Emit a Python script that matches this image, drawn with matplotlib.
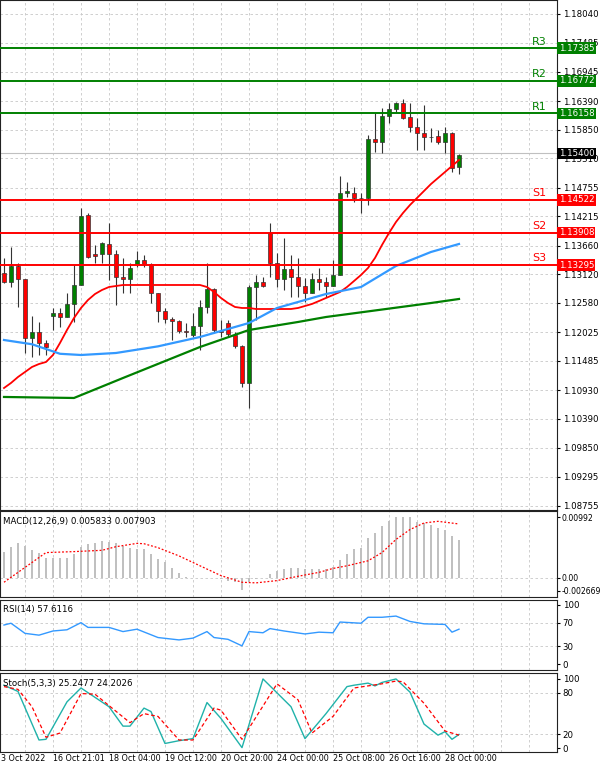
import matplotlib
matplotlib.use("Agg")
import matplotlib.pyplot as plt
import numpy as np

plt.rcParams["font.family"] = "DejaVu Sans"
plt.rcParams["font.size"] = 6.2

# ---- candles (open, high, low, close) ----
opens = [1.13151, 1.12982, 1.13277, 1.13032, 1.11912, 1.12038, 1.11818, 1.12334, 1.12384, 1.12321,
         1.12560, 1.12919, 1.14240, 1.13504, 1.13504, 1.13692, 1.13504, 1.13063, 1.13032, 1.13315,
         1.13390, 1.13315, 1.12761, 1.12434, 1.12271, 1.12233, 1.12057, 1.11975, 1.12145, 1.12510,
         1.12843, 1.12045, 1.12195, 1.11975, 1.11768, 1.11063, 1.12875, 1.12982, 1.13895, 1.13329,
         1.13027, 1.13229, 1.13065, 1.12901, 1.12763, 1.13027, 1.12983, 1.12901, 1.13109, 1.14663,
         1.14663, 1.14556, 1.14556, 1.15669, 1.15612, 1.16109, 1.16235, 1.16361, 1.16084, 1.15896,
         1.15795, 1.15707, 1.15732, 1.15612, 1.15782, 1.15153]
highs = [1.13422, 1.13642, 1.13327, 1.13032, 1.12334, 1.12227, 1.11881, 1.12478, 1.12478, 1.12761,
         1.13296, 1.14365, 1.14271, 1.13673, 1.13736, 1.14082, 1.13579, 1.13422, 1.13327, 1.13560,
         1.13485, 1.13327, 1.12761, 1.12478, 1.12321, 1.12258, 1.12195, 1.12384, 1.12636, 1.13327,
         1.12856, 1.12258, 1.12258, 1.12038, 1.11786, 1.12919, 1.13107, 1.13076, 1.14084, 1.13530,
         1.13801, 1.13486, 1.13424, 1.13046, 1.13153, 1.13235, 1.13078, 1.13392, 1.14977, 1.14870,
         1.14763, 1.14650, 1.15751, 1.16172, 1.16254, 1.16348, 1.16380, 1.16424, 1.16348, 1.16065,
         1.16317, 1.15877, 1.15845, 1.15908, 1.15814, 1.15392]
lows = [1.12950, 1.12875, 1.12510, 1.11642, 1.11554, 1.11598, 1.11598, 1.12070, 1.12132, 1.12321,
        1.12227, 1.12919, 1.13422, 1.13327, 1.13327, 1.13013, 1.12541, 1.12761, 1.12761, 1.13252,
        1.13252, 1.12573, 1.12227, 1.12195, 1.11881, 1.12007, 1.11944, 1.11944, 1.11692, 1.12384,
        1.12038, 1.11944, 1.11944, 1.11724, 1.11000, 1.10591, 1.12258, 1.12887, 1.13078, 1.12889,
        1.12826, 1.12700, 1.12700, 1.12606, 1.12763, 1.12826, 1.12700, 1.12901, 1.13109, 1.14575,
        1.14493, 1.14273, 1.14430, 1.15436, 1.15405, 1.15971, 1.16191, 1.16046, 1.15814, 1.15468,
        1.15468, 1.15625, 1.15581, 1.15405, 1.15059, 1.15015]
closes = [1.12982, 1.13277, 1.13032, 1.11912, 1.12038, 1.11818, 1.11755, 1.12384, 1.12309, 1.12560,
          1.12919, 1.14221, 1.13453, 1.13466, 1.13717, 1.13504, 1.13063, 1.13032, 1.13233, 1.13390,
          1.13315, 1.12761, 1.12434, 1.12271, 1.12233, 1.12057, 1.12038, 1.12145, 1.12510, 1.12843,
          1.12070, 1.12032, 1.11994, 1.11768, 1.11063, 1.12875, 1.12982, 1.12900, 1.13329, 1.13027,
          1.13229, 1.13065, 1.12901, 1.12763, 1.13027, 1.12983, 1.12901, 1.13109, 1.14650, 1.14694,
          1.14556, 1.14562, 1.15669, 1.15612, 1.16109, 1.16235, 1.16361, 1.16065, 1.15896, 1.15795,
          1.15707, 1.15712, 1.15612, 1.15782, 1.15122, 1.15373]

# ---- moving averages ----
ma_fast = [1.10974, 1.11069, 1.11182, 1.11276, 1.11371, 1.11427, 1.11465, 1.11597, 1.11824, 1.12069,
           1.12295, 1.12484, 1.12635, 1.12748, 1.12824, 1.12880, 1.12899, 1.12918, 1.12918, 1.12918,
           1.12918, 1.12918, 1.12918, 1.12918, 1.12918, 1.12918, 1.12918, 1.12918, 1.12918, 1.12880,
           1.12786, 1.12673, 1.12578, 1.12503, 1.12484, 1.12484, 1.12465, 1.12465, 1.12465, 1.12465,
           1.12465, 1.12465, 1.12484, 1.12522, 1.12560, 1.12616, 1.12673, 1.12729, 1.12786, 1.12880,
           1.12993, 1.13107, 1.13239, 1.13428, 1.13673, 1.13899, 1.14107, 1.14277, 1.14428, 1.14560,
           1.14692, 1.14824, 1.14937, 1.15050, 1.15164, 1.15277]
ma_mid_idx = [0, 4, 8, 11, 16, 22, 28, 35, 39, 46, 51, 56, 61, 65]
ma_mid = [1.11880, 1.11800, 1.11620, 1.11597, 1.11635, 1.11760, 1.11937, 1.12201, 1.12484, 1.12748,
          1.12880, 1.13277, 1.13541, 1.13692]
ma_slow_idx = [0, 10, 17, 28, 35, 42, 46, 61, 65]
ma_slow = [1.10805, 1.10786, 1.11163, 1.11748, 1.12069, 1.12220, 1.12314, 1.12578, 1.12654]

# ---- support / resistance ----
res_names = ["R3", "R2", "R1"]
res_levels = [1.17385, 1.16772, 1.16158]
sup_names = ["S1", "S2", "S3"]
sup_levels = [1.14522, 1.13908, 1.13295]
last_price = 1.15400
price_ticks = [1.18040, 1.17485, 1.16945, 1.16390, 1.15850, 1.15310, 1.14755, 1.14215, 1.13660,
               1.13120, 1.12580, 1.12025, 1.11485, 1.10930, 1.10390, 1.09850, 1.09295, 1.08755]

# ---- MACD ----
macd_hist = [0.00423, 0.00504, 0.00563, 0.00520, 0.00450, 0.00413, 0.00332, 0.00332, 0.00332, 0.00332,
             0.00386, 0.00509, 0.00547, 0.00574, 0.00600, 0.00584, 0.00574, 0.00520, 0.00493, 0.00477,
             0.00477, 0.00386, 0.00306, 0.00252, 0.00155, 0.00080, 0.00010, 0.00005, 0.0, 0.0,
             0.0, -0.00016, -0.00043, -0.00059, -0.00204, -0.00059, -0.00016, 0.0, 0.00064, 0.00118,
             0.00145, 0.00155, 0.00155, 0.00145, 0.00145, 0.00145, 0.00145, 0.00172, 0.00289, 0.00397,
             0.00466, 0.00493, 0.00643, 0.00724, 0.00842, 0.00927, 0.00986, 0.00992, 0.00986, 0.00917,
             0.00895, 0.00868, 0.00815, 0.00788, 0.00691, 0.00616]
macd_sig_idx = [0, 6, 10, 14, 16, 19, 20, 22, 25, 28, 31, 34, 36, 39, 42, 45, 47, 49, 52, 54, 56, 58, 60, 62, 65]
macd_sig = [-0.0007, 0.00413, 0.00429, 0.00450, 0.00509, 0.00563, 0.00557, 0.00493, 0.00359, 0.00198,
            0.00038, -0.0007, -0.0008, -0.00043, 0.00027, 0.00091, 0.00155, 0.00198, 0.00279, 0.00413,
            0.00627, 0.00788, 0.00895, 0.00922, 0.00879]

# ---- RSI ----
rsi_idx = [0, 1, 3, 5, 7, 9, 11, 12, 15, 17, 19, 22, 25, 27, 29, 30, 32, 34, 35, 37, 38, 40, 43, 45, 47,
           48, 51, 52, 54, 56, 58, 60, 63, 64, 65]
rsi = [66, 69, 52, 49, 56, 58, 70, 62, 62, 55, 59, 45, 41, 44, 55, 45, 42, 31, 55, 53, 60, 56, 51, 54, 53,
       71, 69, 79, 79, 81, 72, 68, 67, 54, 59]

# ---- Stochastic ----
stk_idx = [0, 2, 5, 6, 9, 11, 15, 17, 18, 20, 21, 23, 25, 27, 29, 31, 34, 37, 41, 43, 46, 49, 50, 52, 53,
           54, 56, 58, 60, 62, 63, 64, 65]
stk = [91, 82, 12, 13, 67, 87, 60, 32, 32, 58, 53, 7, 11, 14, 66, 43, 1, 100, 60, 14, 50, 89, 91, 94, 90,
       95, 100, 81, 35, 19, 24, 13, 20]
std_idx = [0, 2, 4, 6, 8, 11, 13, 18, 20, 22, 25, 27, 30, 31, 34, 39, 42, 44, 47, 50, 54, 56, 57, 60, 63, 65]
std = [89, 85, 60, 16, 22, 79, 78, 37, 50, 46, 12, 12, 58, 55, 13, 93, 70, 22, 46, 87, 93, 97, 96, 65, 25, 19]

date_pos = [-0.4, 7, 15, 23, 31, 39, 47, 55, 63]
date_labels = ["3 Oct 2022", "16 Oct 21:01", "18 Oct 04:00", "19 Oct 12:00", "20 Oct 20:00",
               "24 Oct 00:00", "25 Oct 08:00", "26 Oct 16:00", "28 Oct 00:00"]

GREEN = "#008000"
RED = "#ff0000"
GRID = dict(color="#c8c8c8", linestyle=(0, (3, 3)), linewidth=0.6)

fig = plt.figure(figsize=(6.0, 7.72), dpi=100)
W = 557 / 600
ax = fig.add_axes([0, 1 - 510 / 772, W, 510 / 772])
ax_m = fig.add_axes([0, 1 - 597 / 772, W, 86 / 772])
ax_r = fig.add_axes([0, 1 - 670 / 772, W, 70 / 772])
ax_s = fig.add_axes([0, 1 - 752 / 772, W, 79 / 772])

n = len(opens)
x = np.arange(n)
xlim = (-0.57, 79.0)
vgrid = np.arange(3, 80, 4)

for a in (ax, ax_m, ax_r, ax_s):
    a.set_xlim(*xlim)
    a.set_xticks([])
    a.yaxis.tick_right()
    a.tick_params(axis="y", length=2, pad=2, labelsize=6.2)
    for v in vgrid:
        a.axvline(v, zorder=0, **GRID)
    for s in a.spines.values():
        s.set_color("#222")
        s.set_linewidth(0.8)

# main panel
ax.set_ylim(1.08672, 1.18296)
ax.set_yticks(price_ticks)
ax.set_yticklabels([f"{p:.5f}" for p in price_ticks])
for p in price_ticks:
    ax.axhline(p, zorder=0, **GRID)

o = np.array(opens); c = np.array(closes)
up = c >= o
ax.vlines(x, lows, highs, color="#333", linewidth=0.8, zorder=2)
bottoms = np.minimum(o, c)
heights = np.maximum(np.abs(c - o), 0.00006)
ax.bar(x[up], heights[up], bottom=bottoms[up], width=0.7, color=GREEN, edgecolor="#333",
       linewidth=0.5, zorder=3)
ax.bar(x[~up], heights[~up], bottom=bottoms[~up], width=0.7, color=RED, edgecolor="#333",
       linewidth=0.5, zorder=3)

ax.plot(x, ma_fast, color=RED, linewidth=1.3, zorder=4)
ax.plot(ma_mid_idx, ma_mid, color="#3399ff", linewidth=1.6, zorder=4)
ax.plot(ma_slow_idx, ma_slow, color=GREEN, linewidth=1.6, zorder=4)

ax.axhline(last_price, color="#c0c0c0", linewidth=0.8, zorder=1)
for names, levels, col in ((res_names, res_levels, GREEN), (sup_names, sup_levels, RED)):
    for name, lv in zip(names, levels):
        ax.axhline(lv, color=col, linewidth=1.4, zorder=5)
        ax.text(76.5, lv + 0.0003, name, color=col, fontsize=8, ha="center", va="bottom")
        ax.text(1.003, lv, f"{lv:.5f}", transform=ax.get_yaxis_transform(), color="white",
                fontsize=6.2, va="center", ha="left", zorder=10,
                bbox=dict(boxstyle="square,pad=0.15", fc=col, ec="none"))
ax.text(1.003, last_price, f"{last_price:.5f}", transform=ax.get_yaxis_transform(), color="white",
        fontsize=6.2, va="center", ha="left", zorder=10,
        bbox=dict(boxstyle="square,pad=0.15", fc="black", ec="none"))

# MACD
ax_m.set_ylim(-0.0031, 0.0109)
ax_m.set_yticks([0.00992, 0.0, -0.0021])
ax_m.set_yticklabels(["0.00992", "0.00", "-0.002669"])
ax_m.tick_params(axis="y", labelsize=5.6, pad=1)
ax_m.axhline(0, zorder=0, **GRID)
ax_m.bar(x, macd_hist, width=0.25, color="#c0c0c0", zorder=2)
ax_m.plot(macd_sig_idx, macd_sig, color=RED, linestyle=(0, (1.5, 1.5)), linewidth=0.9, zorder=3)
ax_m.text(0.005, 0.93, "MACD(12,26,9) 0.005833 0.007903", transform=ax_m.transAxes, va="top")

# RSI
ax_r.set_ylim(-9.5, 108)
ax_r.set_yticks([100, 70, 30, 0])
for v in (70, 30):
    ax_r.axhline(v, zorder=0, **GRID)
ax_r.plot(rsi_idx, rsi, color="#3399ff", linewidth=1.0)
ax_r.text(0.005, 0.93, "RSI(14) 57.6116", transform=ax_r.transAxes, va="top")

# Stochastic
ax_s.set_ylim(-5.3, 108.6)
ax_s.set_yticks([100, 80, 20, 0])
for v in (80, 20):
    ax_s.axhline(v, zorder=0, **GRID)
ax_s.plot(stk_idx, stk, color="#20b2aa", linewidth=1.0)
ax_s.plot(std_idx, std, color=RED, linestyle=(0, (3, 2)), linewidth=0.9)
ax_s.text(0.005, 0.93, "Stoch(5,3,3) 25.2477 24.2026", transform=ax_s.transAxes, va="top")

for pos, lab in zip(date_pos, date_labels):
    ax_s.text(pos, -0.03, lab, transform=ax_s.get_xaxis_transform(), ha="left", va="top",
              fontsize=5.8)

fig.savefig("out.png", dpi=100)
